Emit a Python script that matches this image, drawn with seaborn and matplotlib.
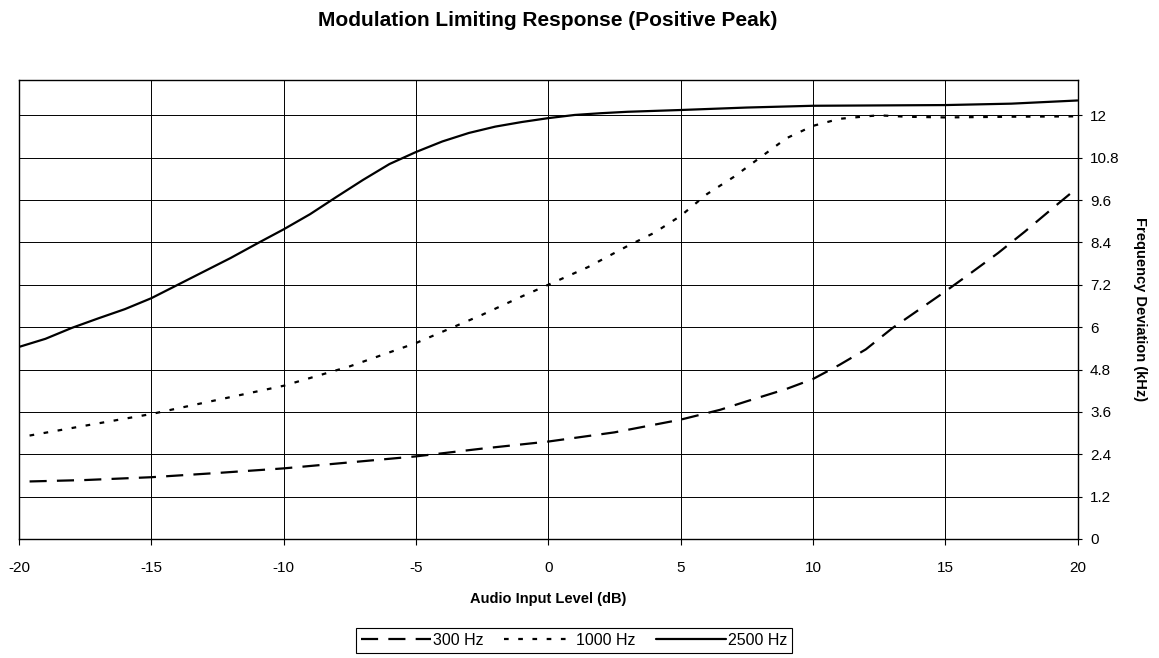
import numpy as np
import pandas as pd
import matplotlib
matplotlib.use("Agg")
import matplotlib.pyplot as plt
import seaborn as sns

# ---- data ----
x300 = [-19.6, -17.5, -15, -12.5, -10, -7.5, -5, -2.5, 0, 2.5, 5, 6.5, 7.5, 9, 10,
        11, 12, 13, 14, 15, 16, 17, 18, 19, 20]
y300 = [1.63, 1.67, 1.75, 1.87, 2.0, 2.17, 2.34, 2.56, 2.76, 3.02, 3.38, 3.66, 3.9, 4.25, 4.53,
        4.93, 5.37, 5.97, 6.49, 7.01, 7.55, 8.1, 8.7, 9.33, 9.95]

x1000 = [-19.6, -17.5, -15, -12.5, -10, -7.5, -5, -2.5, -1, 0, 1.5, 3, 4, 5, 6, 7, 8, 9,
         10, 11, 12, 12.5, 13.5, 15, 17.5, 20]
y1000 = [2.93, 3.21, 3.54, 3.94, 4.34, 4.89, 5.55, 6.35, 6.87, 7.2, 7.7, 8.3, 8.67, 9.15,
         9.77, 10.25, 10.8, 11.35, 11.7, 11.9, 11.97, 12.0, 11.96, 11.94, 11.96, 11.97]

x2500 = [-20, -19, -18, -17, -16, -15, -14, -13, -12, -11, -10, -9, -8, -7, -6, -5, -4,
         -3, -2, -1, 0, 1, 2, 3, 5, 7.5, 10, 12.5, 15, 17.5, 20]
y2500 = [5.44, 5.67, 5.98, 6.25, 6.51, 6.82, 7.2, 7.58, 7.96, 8.37, 8.77, 9.2, 9.69,
         10.17, 10.62, 10.96, 11.26, 11.5, 11.68, 11.81, 11.92, 12.01, 12.06, 12.1, 12.15,
         12.22, 12.27, 12.28, 12.29, 12.33, 12.42]

series_names = ["300 Hz", "1000 Hz", "2500 Hz"]
x_ticks = [-20, -15, -10, -5, 0, 5, 10, 15, 20]
y_ticks = [0, 1.2, 2.4, 3.6, 4.8, 6, 7.2, 8.4, 9.6, 10.8, 12]
y_tick_labels = ["0", "1.2", "2.4", "3.6", "4.8", "6", "7.2", "8.4", "9.6", "10.8", "12"]

title = "Modulation Limiting Response (Positive Peak)"
xlabel = "Audio Input Level (dB)"
ylabel = "Frequency Deviation (kHz)"

frames = []
for name, xs, ys in zip(series_names, [x300, x1000, x2500], [y300, y1000, y2500]):
    frames.append(pd.DataFrame({"x": xs, "y": ys, "series": name}))
df = pd.concat(frames, ignore_index=True)

# ---- style ----
sns.set_theme(style="white")
plt.rcParams["font.family"] = ["Liberation Sans", "DejaVu Sans"]
plt.rcParams["text.color"] = "black"
plt.rcParams["axes.labelcolor"] = "black"
plt.rcParams["xtick.color"] = "black"
plt.rcParams["ytick.color"] = "black"

fig = plt.figure(figsize=(11.59, 6.58), dpi=100)
ax = fig.add_axes([19 / 1159, 1 - 539 / 658, (1077.5 - 19) / 1159, (539 - 80) / 658])

dashes = {"300 Hz": (7.7, 4.6), "1000 Hz": (2.1, 4.3), "2500 Hz": ""}
palette = {n: "black" for n in series_names}
sns.lineplot(data=df, x="x", y="y", hue="series", style="series",
             hue_order=series_names, style_order=series_names,
             palette=palette, dashes=dashes, linewidth=1.6, ax=ax,
             legend=True, sort=False)

ax.set_xlim(-20, 20)
ax.set_ylim(0, 13.0)
ax.set_xticks(x_ticks)
ax.set_xticklabels([str(t) for t in x_ticks])
ax.set_yticks(y_ticks)
ax.set_yticklabels(y_tick_labels)
ax.yaxis.tick_right()
ax.yaxis.set_label_position("right")
ax.tick_params(axis="x", direction="out", length=4, width=0.8, color="black",
               labelsize=11, pad=12, bottom=True)
ax.tick_params(axis="y", direction="out", length=3, width=0.8, color="black",
               labelsize=11, pad=6, right=True, left=False)
ax.grid(True, color="black", linewidth=0.7)
for s in ax.spines.values():
    s.set_color("black")
    s.set_linewidth(1.0)
    s.set_visible(True)

ax.set_xlabel(xlabel, fontsize=10.5, fontweight="bold", labelpad=12)
ax.set_ylabel(ylabel, fontsize=10.5, fontweight="bold", rotation=270, labelpad=20)

fig.text(548 / 1159, 1 - 21 / 658, title, ha="center", va="center",
         fontsize=15, fontweight="bold")

handles, labels = ax.get_legend_handles_labels()
ax.get_legend().remove()
leg = fig.legend(handles, labels, loc="center", bbox_to_anchor=(574 / 1159, 1 - 640.5 / 658),
                 ncol=3, fontsize=11.5, frameon=True, fancybox=False, framealpha=1,
                 edgecolor="black", handlelength=4.4, handletextpad=0.1,
                 columnspacing=1.3, borderpad=0.3)
leg.get_frame().set_linewidth(0.8)

fig.savefig("out.png", dpi=100)
